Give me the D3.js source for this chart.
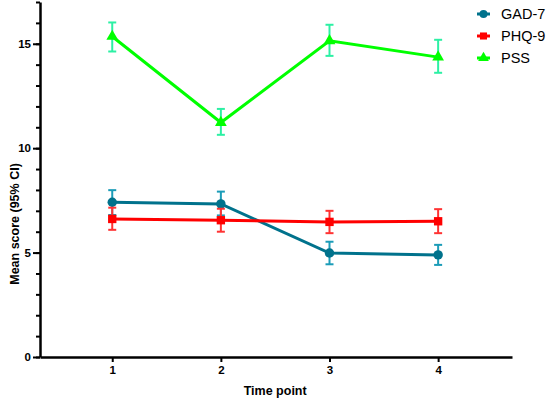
<!DOCTYPE html>
<html>
<head>
<meta charset="utf-8">
<script src="https://cdn.jsdelivr.net/npm/d3@7"></script>
<style>
  body { margin: 0; background: #fff; }
  text { font-family: "Liberation Sans", Arial, sans-serif; }
</style>
</head>
<body>
<div id="chart"></div>
<script>
// data
var timePoints = [1, 2, 3, 4];
var seriesNames = ["GAD-7", "PHQ-9", "PSS"];

var gadMean = [7.41, 7.33, 4.98, 4.89];
var gadLow  = [6.80, 6.78, 4.44, 4.41];
var gadHigh = [7.99, 7.92, 5.52, 5.37];

var phqMean = [6.61, 6.55, 6.47, 6.50];
var phqLow  = [6.09, 6.00, 5.93, 5.93];
var phqHigh = [7.15, 7.10, 7.00, 7.08];

var pssMean = [15.35, 11.23, 15.14, 14.36];
var pssLow  = [14.63, 10.64, 14.42, 13.61];
var pssHigh = [16.02, 11.88, 15.91, 15.19];

var yMajorTicks = [0, 5, 10, 15];

var series = [
  { name: seriesNames[0], mean: gadMean, lo: gadLow, hi: gadHigh, line: "#00728c", bar: "#1b9cb8", shape: d3.symbolCircle },
  { name: seriesNames[1], mean: phqMean, lo: phqLow, hi: phqHigh, line: "#ff0000", bar: "#ff3333", shape: d3.symbolSquare },
  { name: seriesNames[2], mean: pssMean, lo: pssLow, hi: pssHigh, line: "#00ff00", bar: "#2cf0a4", shape: d3.symbolTriangle }
];

var width = 546, height = 399;
var margin = { top: 2, right: 34, bottom: 42, left: 40 };
var w = width - margin.left - margin.right,
    h = height - margin.top - margin.bottom;

var svg = d3.select("#chart").append("svg")
    .attr("width", width)
    .attr("height", height)
  .append("g")
    .attr("transform", "translate(" + margin.left + "," + margin.top + ")");

var x = d3.scaleLinear().domain([0.335, 4.68]).range([0, w]);
var y = d3.scaleLinear().domain([0, 17]).range([h, 0]);

// y axis: minor ticks every 1, labels on 0/5/10/15
var yMinor = svg.append("g")
    .call(d3.axisLeft(y).tickValues(d3.range(0, 18, 1)).tickSize(4).tickFormat(""));
yMinor.select(".domain").remove();

var yAxis = svg.append("g")
    .call(d3.axisLeft(y).tickValues(yMajorTicks).tickSize(7).tickPadding(2).tickSizeOuter(0));
yAxis.select(".domain").attr("stroke-width", 2.5);

var xAxis = svg.append("g")
    .attr("transform", "translate(0," + h + ")")
    .call(d3.axisBottom(x).tickValues(timePoints).tickFormat(d3.format("d"))
      .tickSize(5).tickPadding(4).tickSizeOuter(0));
xAxis.select(".domain").attr("stroke-width", 2.5);

svg.selectAll(".tick line").attr("stroke-width", 2).attr("stroke", "#000");
svg.selectAll(".tick text")
    .attr("font-size", 11.5).attr("font-weight", "bold").attr("fill", "#000");

// axis titles
svg.append("text")
    .attr("x", x(2.5))
    .attr("y", h + 38)
    .attr("text-anchor", "middle")
    .attr("font-size", 12.5).attr("font-weight", "bold")
    .text("Time point");

svg.append("text")
    .attr("transform", "translate(" + (-21) + "," + 222 + ") rotate(-90)")
    .attr("text-anchor", "middle")
    .attr("font-size", 12.5).attr("font-weight", "bold")
    .text("Mean score (95% CI)");

var line = d3.line().x(d => x(d.t)).y(d => y(d.v));

series.forEach(function(s) {
  var pts = timePoints.map((t, i) => ({ t: t, v: s.mean[i], lo: s.lo[i], hi: s.hi[i] }));
  var g = svg.append("g");

  // error bars
  var eb = g.selectAll(".eb").data(pts).enter().append("g")
      .attr("stroke", s.bar).attr("stroke-width", 2).attr("fill", "none");
  eb.append("line")
      .attr("x1", d => x(d.t)).attr("x2", d => x(d.t))
      .attr("y1", d => y(d.lo)).attr("y2", d => y(d.hi));
  eb.append("line")
      .attr("x1", d => x(d.t) - 4).attr("x2", d => x(d.t) + 4)
      .attr("y1", d => y(d.hi)).attr("y2", d => y(d.hi));
  eb.append("line")
      .attr("x1", d => x(d.t) - 4).attr("x2", d => x(d.t) + 4)
      .attr("y1", d => y(d.lo)).attr("y2", d => y(d.lo));

  g.append("path")
      .datum(pts)
      .attr("d", line)
      .attr("fill", "none")
      .attr("stroke", s.line)
      .attr("stroke-width", 3);

  g.selectAll(".pt").data(pts).enter().append("path")
      .attr("transform", d => "translate(" + x(d.t) + "," + y(d.v) + ")")
      .attr("d", d3.symbol().type(s.shape).size(s.shape === d3.symbolTriangle ? 60 : 70))
      .attr("fill", s.line);
});

// legend
var legend = svg.append("g")
    .attr("transform", "translate(" + (477 - margin.left) + "," + (14 - margin.top) + ")");
series.forEach(function(s, i) {
  var row = legend.append("g").attr("transform", "translate(0," + i * 22 + ")");
  row.append("line").attr("x1", 0).attr("x2", 13).attr("y1", 0).attr("y2", 0)
      .attr("stroke", s.line).attr("stroke-width", 3);
  row.append("path").attr("transform", "translate(6.5,0)")
      .attr("d", d3.symbol().type(s.shape).size(50))
      .attr("fill", s.line);
  row.append("text").attr("x", 24).attr("y", 0).attr("dy", "0.35em")
      .attr("font-size", 14.5).attr("fill", "#000")
      .text(s.name);
});
</script>
</body>
</html>
